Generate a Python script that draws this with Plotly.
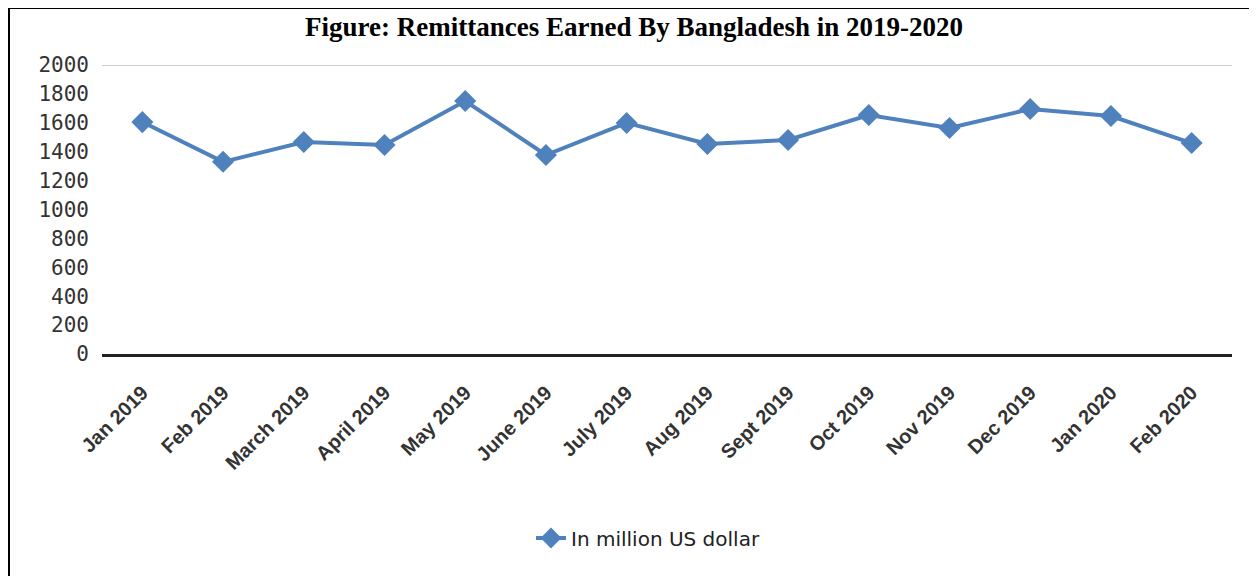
import plotly.graph_objects as go

months = ["Jan 2019", "Feb 2019", "March 2019", "April 2019", "May 2019", "June 2019",
          "July 2019", "Aug 2019", "Sept 2019", "Oct 2019", "Nov 2019", "Dec 2019",
          "Jan 2020", "Feb 2020"]
remittance = [1605, 1330, 1467, 1446, 1751, 1377, 1599, 1453, 1481, 1654, 1564, 1695, 1647, 1460]
y_ticks = [0, 200, 400, 600, 800, 1000, 1200, 1400, 1600, 1800, 2000]
series_name = "In million US dollar"
title = "Figure: Remittances Earned By Bangladesh in 2019-2020"

fig = go.Figure()
fig.add_trace(go.Scatter(
    x=months, y=remittance, name=series_name, mode="lines+markers",
    line=dict(color="#4F81BD", width=4),
    marker=dict(symbol="diamond", size=17, color="#4F81BD"),
))

OFF = 8  # page offset of the figure
PW, PH = 1257, 576
W, H = PW - OFF, PH - OFF
L, R, T, B = 102 - OFF, 25, 65 - OFF, PH - 354
pw, ph = W - L - R, H - T - B

def px_x(p):  # page pixel -> paper
    return (p - OFF - L) / pw

def px_y(p):
    return (PH - B - p) / ph

fig.update_layout(
    width=W, height=H,
    margin=dict(l=L, r=R, t=T, b=B),
    paper_bgcolor="white", plot_bgcolor="white",
    title=dict(text=title, xref="container", x=(634 - OFF) / W, xanchor="center",
               y=1 - (27 - OFF) / H, yanchor="middle",
               font=dict(family="Liberation Serif", size=27, color="black", weight="bold")),
    showlegend=True,
    legend=dict(orientation="h", x=px_x(648), xanchor="center", y=px_y(538), yanchor="middle",
                font=dict(family="DejaVu Sans", size=20, color="#222")),
    xaxis=dict(type="category", range=[-0.5, len(months) - 0.5], tickangle=-45,
               showgrid=False, showline=True,
               linecolor="#222", linewidth=3, ticks="", ticklabelstandoff=16,
               tickfont=dict(family="Liberation Sans", size=20, color="#333", weight="bold")),
    yaxis=dict(range=[0, 2000], tickvals=y_ticks, showgrid=False, zeroline=False,
               showline=False, ticks="", ticklabelstandoff=12,
               tickfont=dict(family="DejaVu Sans Mono", size=21, color="#333")),
    shapes=[
        dict(type="line", xref="paper", yref="y", x0=0, x1=1, y0=2000, y1=2000,
             line=dict(color="#CCCCCC", width=2), layer="below"),
        dict(type="line", xref="paper", yref="paper", x0=px_x(9), x1=px_x(9),
             y0=px_y(8), y1=px_y(PH + 5), line=dict(color="black", width=2)),
        dict(type="line", xref="paper", yref="paper", x0=px_x(8), x1=px_x(PW + 5),
             y0=px_y(8), y1=px_y(8), line=dict(color="black", width=2)),
    ],
)

fig.write_html("out.html")
